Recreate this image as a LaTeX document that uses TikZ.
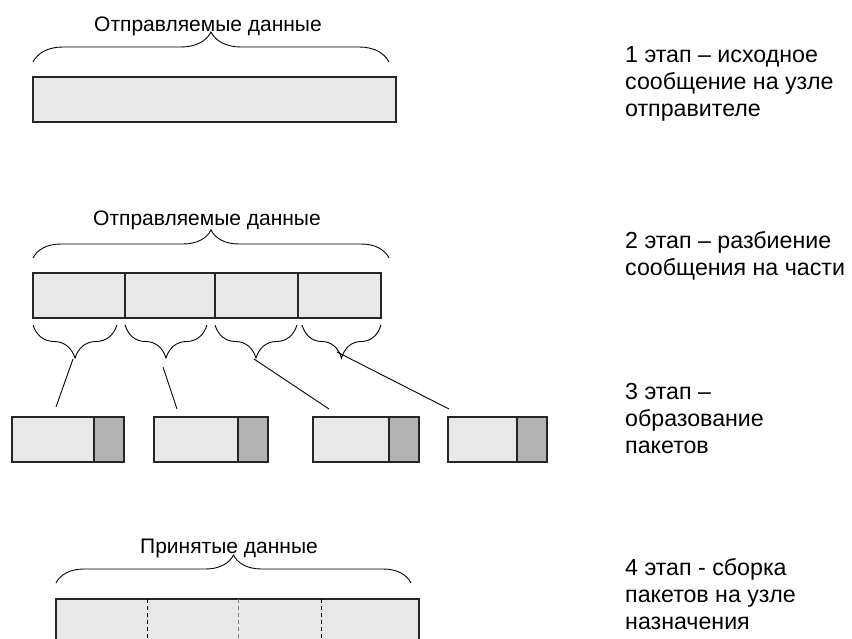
\documentclass[tikz,border=0pt]{standalone}
\usepackage{fontspec}
\setmainfont{Liberation Sans}
\usetikzlibrary{positioning, decorations.pathreplacing}

\definecolor{datafill}{HTML}{E8E8E8}
\definecolor{headfill}{HTML}{B2B2B2}

\begin{document}
\begin{tikzpicture}[
        x=1pt, y=-1pt,
        node distance=0pt and 0pt,
        datablk/.style={rectangle, draw=black!85, line width=1.2pt, fill=datafill, minimum height=45pt, inner sep=0pt, outer sep=0pt, anchor=north west},
        headblk/.style={datablk, fill=headfill, minimum width=30pt},
        brc/.style={decorate, decoration={brace, amplitude=#1}, line width=0.9pt},
        lbl/.style={font=\fontsize{21}{25}\selectfont, anchor=base, inner sep=0pt},
        stagetxt/.style={font=\fontsize{23.2}{27}\selectfont, align=left, anchor=north west, inner sep=0pt},
        link/.style={line width=0.9pt}
    ]
        \useasboundingbox (0,0) rectangle (852,639);
        \clip (0,0) rectangle (852,639);

        % 1: message at the sender
        \node[lbl] (sent1) at (208,32) {Отправляемые данные};
        \node[datablk, minimum width=363pt] (msg) at (33,77) {};
        \draw[brc=30pt] (33,62) -- (389,62);

        % 2: message split into parts
        \node[lbl] (sent2) at (207,226) {Отправляемые данные};
        \node[datablk, minimum width=92pt] (part1) at (33,273) {};
        \node[datablk, minimum width=90pt, right=of part1] (part2) {};
        \node[datablk, minimum width=83pt, right=of part2] (part3) {};
        \node[datablk, minimum width=83pt, right=of part3] (part4) {};
        \draw[brc=28pt] (33,258) -- (389,258);

        \draw[brc=33pt, decoration={mirror}] (33,325) -- (117,325);
        \draw[brc=33pt, decoration={mirror}] (125,325) -- (207,325);
        \draw[brc=33pt, decoration={mirror}] (215,325) -- (297,325);
        \draw[brc=33pt, decoration={mirror}] (302,325) -- (381,325);

        % 3: packets
        \node[datablk, minimum width=82pt] (data1) at (12,417) {};
        \node[headblk, right=of data1] (head1) {};
        \node[datablk, minimum width=84pt] (data2) at (154,417) {};
        \node[headblk, right=of data2] (head2) {};
        \node[datablk, minimum width=76pt] (data3) at (313,417) {};
        \node[headblk, right=of data3] (head3) {};
        \node[datablk, minimum width=69pt] (data4) at (448,417) {};
        \node[headblk, right=of data4] (head4) {};

        \coordinate (tip1) at (73,359);
        \coordinate (tip2) at (163,367);
        \coordinate (tip3) at (254,359);
        \coordinate (tip4) at (337,352);
        \coordinate (end1) at (56,407);
        \coordinate (end2) at (177,409);
        \coordinate (end3) at (329,409);
        \coordinate (end4) at (449,409);
        \draw[link] (tip1) -- (end1);
        \draw[link] (tip2) -- (end2);
        \draw[link] (tip3) -- (end3);
        \draw[link] (tip4) -- (end4);

        % 4: assembled at the receiver
        \node[lbl] (recvd) at (229,553) {Принятые данные};
        \node[datablk, minimum width=363pt, minimum height=80pt] (recv) at (56,599) {};
        \draw[brc=28pt] (56,583) -- (411,583);
        \draw[dashed, dash pattern=on 4pt off 3pt, line width=1pt] (147,599) -- (147,639);
        \draw[dashed, dash pattern=on 4pt off 3pt, line width=1pt, gray] (238,599) -- (238,639);
        \draw[dashed, dash pattern=on 4pt off 3pt, line width=1pt] (321,599) -- (321,639);

        % stage captions
        \node[stagetxt] (cap1) at (625,46) {1 этап – исходное\\сообщение на узле\\отправителе};
        \node[stagetxt] (cap2) at (625,231) {2 этап – разбиение\\сообщения на части};
        \node[stagetxt] (cap3) at (625,383) {3 этап –\\образование\\пакетов};
        \node[stagetxt] (cap4) at (625,558) {4 этап - сборка\\пакетов на узле\\назначения};
    \end{tikzpicture}
\end{document}
